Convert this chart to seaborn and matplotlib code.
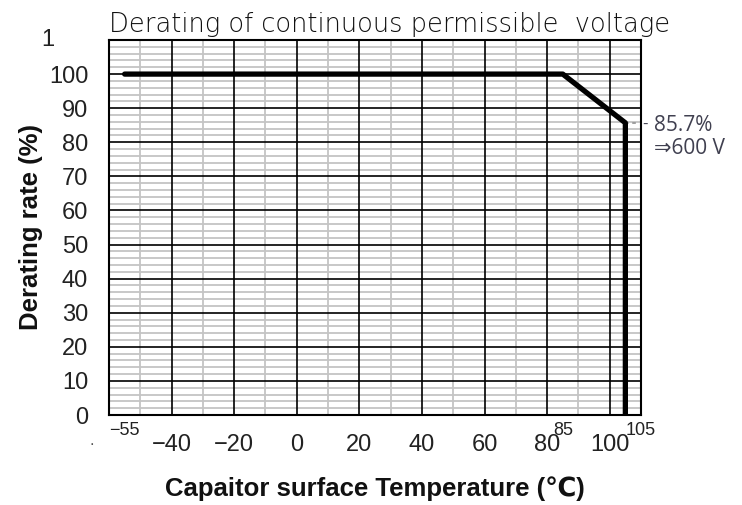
import numpy as np
import pandas as pd
import matplotlib
matplotlib.use('Agg')
import matplotlib.pyplot as plt
import seaborn as sns

sns.set_style('white')
plt.rcParams['font.family'] = ['Liberation Sans', 'DejaVu Sans']

# data
temps = [-55, 85, 105, 105]
rates = [100, 100, 85.7, 0]
x_major = [-40, -20, 0, 20, 40, 60, 80, 100]
x_minor = [-50, -30, -10, 10, 30, 50, 70, 90]
y_major = [0, 10, 20, 30, 40, 50, 60, 70, 80, 90, 100]
extra_xlabels = ['-55', '85', '105']
extra_xpos = [-55, 85, 110]
note_pct = '85.7%'
note_volt = '\u21d2600 V'

df = pd.DataFrame({'temp': temps, 'rate': rates})

fig = plt.figure(figsize=(7.42, 5.05), dpi=100)
ax = fig.add_axes([109 / 742, 90 / 505, 532 / 742, 375 / 505])

# grid lines
for y in np.arange(2, 110, 2):
    if y % 10:
        ax.axhline(y, color='#c4c4c4', lw=1.3, zorder=1)
for x in x_minor:
    ax.axvline(x, color='#c4c4c4', lw=1.3, zorder=1)
for y in y_major[1:]:
    ax.axhline(y, color='black', lw=1.2, zorder=2)
for x in x_major:
    ax.axvline(x, color='black', lw=1.2, zorder=2)

sns.lineplot(data=df, x='temp', y='rate', sort=False, estimator=None,
             color='black', lw=3.8, ax=ax, zorder=4)

ax.set_xlim(-60, 110)
ax.set_ylim(0, 110)
for s in ax.spines.values():
    s.set_color('black')
    s.set_linewidth(1.5)

ax.set_xticks(x_major)
ax.set_xticklabels([str(v).replace('-', '\u2212') for v in x_major], fontsize=17)
ax.set_yticks(y_major)
ax.set_yticklabels([str(v) for v in y_major], fontsize=17)
ax.tick_params(length=0)
ax.tick_params(axis='y', pad=15)
ax.tick_params(axis='x', pad=14)
for lab in ax.get_xticklabels() + ax.get_yticklabels():
    lab.set_color('#222222')

# extra small x labels and the clipped top label
for lab, xp in zip(extra_xlabels, extra_xpos):
    ax.text(xp, -4.5, lab.replace('-', '\u2212'), ha='center', va='center',
            fontsize=13, color='#222222', clip_on=False)
ax.text(-79.5, 110, '1', ha='center', va='center', fontsize=17,
        color='#222222', clip_on=False)
ax.text(-65.5, -7.5, '.', ha='center', va='center', fontsize=12,
        color='#555555', clip_on=False)

# annotation
ax.plot([105, 109], [85.7, 85.7], ls=(0, (2, 2)), color='#999999', lw=1.3,
        clip_on=False, zorder=3)
ax.text(110.3, 85.3, '-', ha='left', va='center', fontsize=12,
        color='#404050', clip_on=False)
ax.text(114.0, 84.8, note_pct, ha='left', va='center', fontsize=15,
        color='#404050', family=['Open Sans', 'DejaVu Sans'], clip_on=False)
ax.text(114.0, 78.3, note_volt, ha='left', va='center', fontsize=15,
        color='#404050', family=['Open Sans', 'DejaVu Sans'], clip_on=False)

ax.set_title('Derating of continuous permissible  voltage', fontsize=18.5,
             family=['DejaVu Sans'], fontweight='light', loc='left',
             pad=6, color='#111111')
ax.set_xlabel('Capaitor surface Temperature (\u2103)', fontsize=18.5,
              fontweight='bold', labelpad=14, color='#111111')
ax.set_ylabel('Derating rate (%)', fontsize=18.5, fontweight='bold',
              labelpad=4, color='#111111')

fig.savefig('out.png', dpi=100)
